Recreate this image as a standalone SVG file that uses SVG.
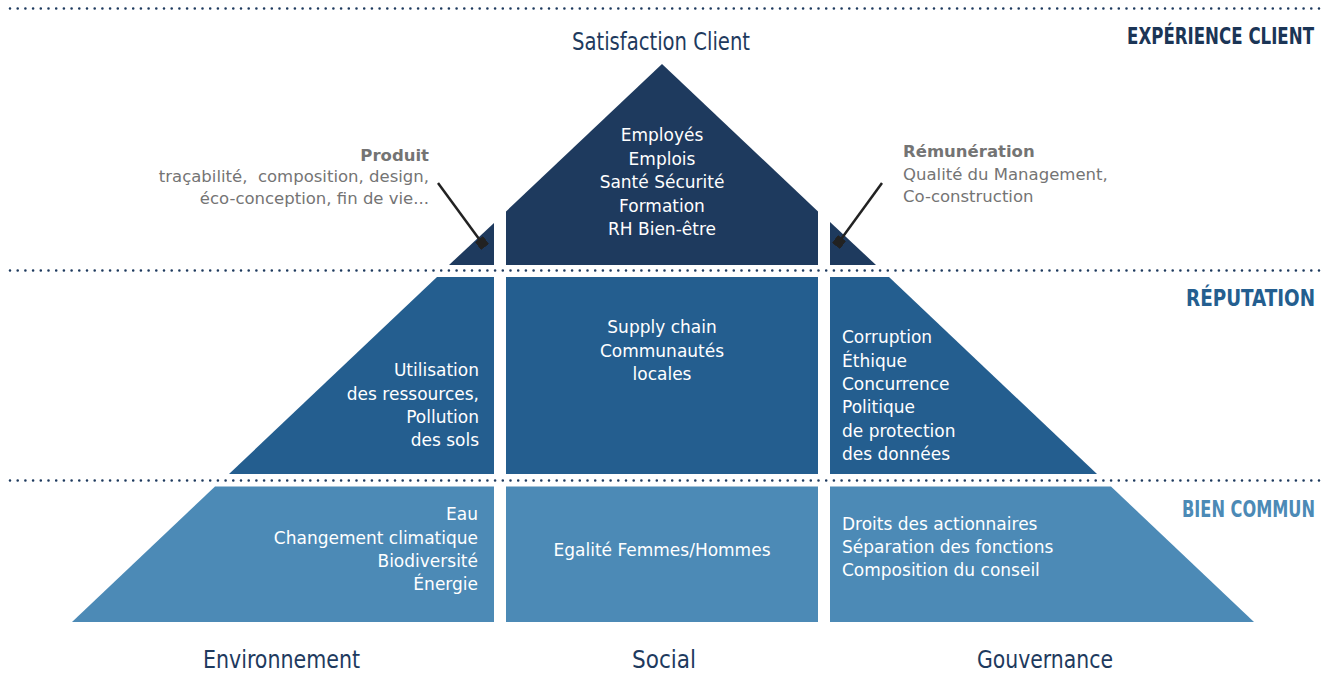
<svg xmlns="http://www.w3.org/2000/svg" width="1332" height="673" viewBox="0 0 1332 673">
<defs>
<style>
.t1{fill:#1E3A5E}.t2{fill:#245E8F}.t3{fill:#4C8AB6}
.dots{stroke:#1E3A5E;stroke-width:2.6;stroke-linecap:round;stroke-dasharray:0 7.7;fill:none}
.w{fill:#fff;font-family:"DejaVu Sans","Liberation Sans",sans-serif;font-size:17px}
.c{text-anchor:middle}.r{text-anchor:end}
.g{fill:#747474;font-family:"DejaVu Sans","Liberation Sans",sans-serif;font-size:16.5px}
.gb{font-weight:bold}
.hd{font-family:"DejaVu Sans Condensed","Liberation Sans Narrow","Liberation Sans",sans-serif;font-weight:bold;font-size:19.5px;text-anchor:end}
.ax{font-family:"DejaVu Sans Condensed","Liberation Sans Narrow","Liberation Sans",sans-serif;font-size:24px;fill:#1E3A5E}
.lead{stroke:#222;stroke-width:2.5;fill:none}
</style>
<marker id="sq" markerWidth="4" markerHeight="4" refX="2" refY="2" orient="auto" markerUnits="strokeWidth"><rect width="4" height="4" fill="#222"/></marker>
</defs>
<g id="guides">
<line class="dots" x1="10" y1="8.5" x2="1320" y2="8.5"/>
<line class="dots" x1="10" y1="270.5" x2="1320" y2="270.5"/>
<line class="dots" x1="10" y1="480.5" x2="1320" y2="480.5"/>
</g>
<g id="header-experience"><text class="hd" transform="translate(1314,44) scale(1,1.15)" x="0" y="0" fill="#1B3556" textLength="187" lengthAdjust="spacingAndGlyphs">EXPÉRIENCE CLIENT</text></g>
<g id="header-reputation"><text class="hd" transform="translate(1315,306) scale(1,1.15)" x="0" y="0" fill="#245E8F" textLength="129" lengthAdjust="spacingAndGlyphs">RÉPUTATION</text></g>
<g id="header-bien-commun"><text class="hd" transform="translate(1315,517) scale(1,1.15)" x="0" y="0" fill="#4C8AB6" textLength="133" lengthAdjust="spacingAndGlyphs">BIEN COMMUN</text></g>
<g id="title-satisfaction"><text class="ax" x="572" y="50" textLength="178" lengthAdjust="spacingAndGlyphs">Satisfaction Client</text></g>

<g id="top-left"><polygon class="t1" points="494,223 494,265 449,265"/></g>
<g id="top-center">
<polygon class="t1" points="506,265 506,211.5 662,64 818,211.5 818,265"/>
<text class="w c" x="662" y="141">Employés</text>
<text class="w c" x="662" y="164.5">Emplois</text>
<text class="w c" x="662" y="188">Santé Sécurité</text>
<text class="w c" x="662" y="211.5">Formation</text>
<text class="w c" x="662" y="235">RH Bien-être</text>
</g>
<g id="top-right"><polygon class="t1" points="830,222 830,265 876,265"/></g>

<g id="mid-left">
<polygon class="t2" points="437,277 494,277 494,474 229,474"/>
<text class="w r" x="479" y="376">Utilisation</text>
<text class="w r" x="479" y="399.5">des ressources,</text>
<text class="w r" x="479" y="422.5">Pollution</text>
<text class="w r" x="479" y="446">des sols</text>
</g>
<g id="mid-center">
<rect class="t2" x="506" y="277" width="312" height="197"/>
<text class="w c" x="662" y="333">Supply chain</text>
<text class="w c" x="662" y="356.5">Communautés</text>
<text class="w c" x="662" y="380">locales</text>
</g>
<g id="mid-right">
<polygon class="t2" points="830,277 889,277 1097,474 830,474"/>
<text class="w" x="842" y="343">Corruption</text>
<text class="w" x="842" y="366.5">Éthique</text>
<text class="w" x="842" y="390">Concurrence</text>
<text class="w" x="842" y="413">Politique</text>
<text class="w" x="842" y="436.5">de protection</text>
<text class="w" x="842" y="460">des données</text>
</g>

<g id="bot-left">
<polygon class="t3" points="215,486.5 494,486.5 494,622 72,622"/>
<text class="w r" x="478" y="520">Eau</text>
<text class="w r" x="478" y="543.5">Changement climatique</text>
<text class="w r" x="478" y="566.5">Biodiversité</text>
<text class="w r" x="478" y="590">Énergie</text>
</g>
<g id="bot-center">
<rect class="t3" x="506" y="486.5" width="312" height="135.5"/>
<text class="w c" x="662" y="556">Egalité Femmes/Hommes</text>
</g>
<g id="bot-right">
<polygon class="t3" points="830,486.5 1111,486.5 1254,622 830,622"/>
<text class="w" x="842" y="529.5">Droits des actionnaires</text>
<text class="w" x="842" y="552.5">Séparation des fonctions</text>
<text class="w" x="842" y="576">Composition du conseil</text>
</g>

<g id="label-produit">
<text class="g gb r" x="429" y="160.5">Produit</text>
<text class="g r" x="429" y="182" xml:space="preserve">traçabilité,  composition, design,</text>
<text class="g r" x="429" y="203.5">éco-conception, fin de vie...</text>
</g>
<g id="label-remuneration">
<text class="g gb" x="903" y="157">Rémunération</text>
<text class="g" x="903" y="179.5">Qualité du Management,</text>
<text class="g" x="903" y="202">Co-construction</text>
</g>

<g id="connectors">
<line class="lead" x1="438" y1="183" x2="482" y2="243" marker-end="url(#sq)"/>
<line class="lead" x1="882" y1="183" x2="839" y2="242" marker-end="url(#sq)"/>
</g>

<g id="axis-labels">
<text class="ax" x="203" y="668" textLength="157" lengthAdjust="spacingAndGlyphs">Environnement</text>
<text class="ax" x="632" y="668" textLength="64" lengthAdjust="spacingAndGlyphs">Social</text>
<text class="ax" x="977" y="668" textLength="136" lengthAdjust="spacingAndGlyphs">Gouvernance</text>
</g>
</svg>
